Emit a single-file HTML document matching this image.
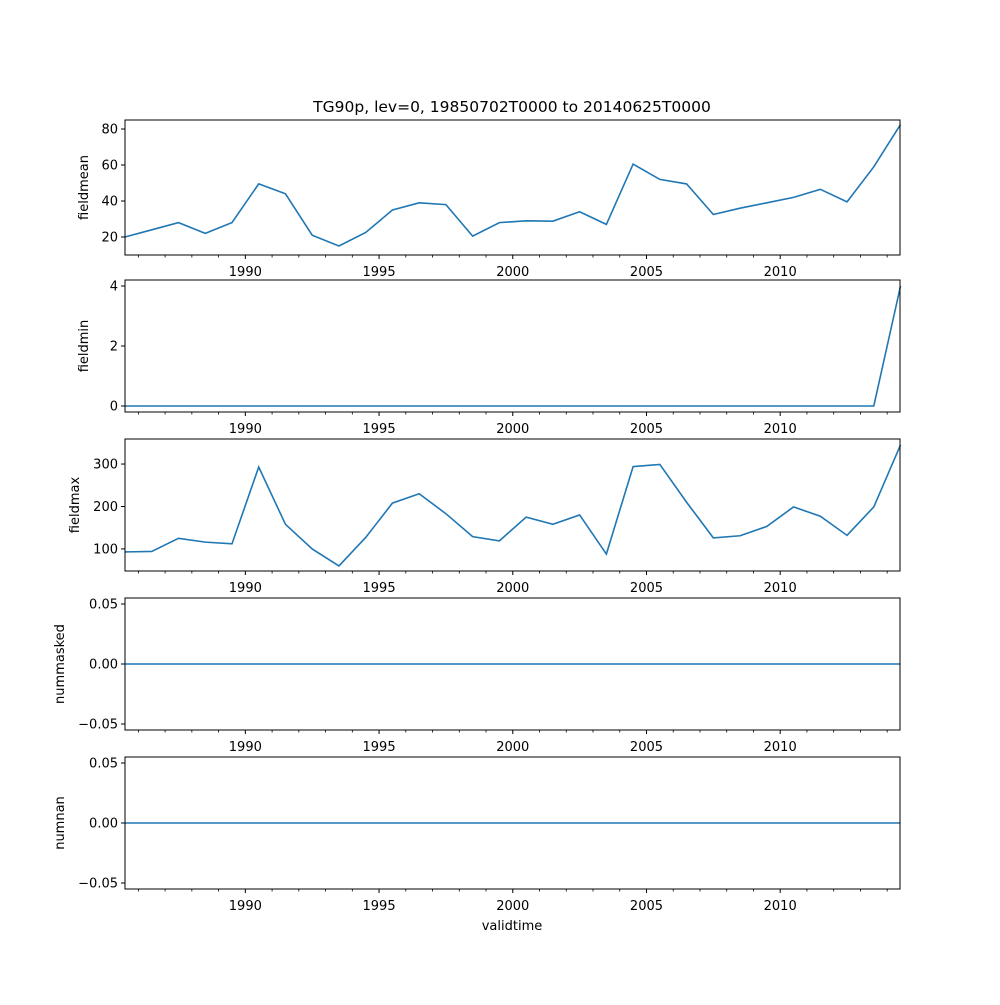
<!DOCTYPE html>
<html><head><meta charset="utf-8"><style>
body{margin:0;background:#fff;}
svg text{font-family:"DejaVu Sans","Liberation Sans",sans-serif;font-size:13px;fill:#000;}
</style></head><body>
<svg id="chart" width="1000" height="1000" xmlns="http://www.w3.org/2000/svg">
<rect width="1000" height="1000" fill="#fff"/>
<text x="512" y="112" text-anchor="middle" style="font-size:15.5px">TG90p, lev=0, 19850702T0000 to 20140625T0000</text>
<text x="512" y="930" text-anchor="middle">validtime</text>
</svg>
<script>
const years = [1985,1986,1987,1988,1989,1990,1991,1992,1993,1994,1995,1996,1997,1998,1999,2000,2001,2002,2003,2004,2005,2006,2007,2008,2009,2010,2011,2012,2013,2014];
const fieldmean = [20,24,28,22,28,49.5,44,21,15,22.5,35,39,38,20.5,28,29,28.8,34,27,60.5,52,49.5,32.5,36,39,42,46.5,39.5,59,82.5];
const fieldmin = [0,0,0,0,0,0,0,0,0,0,0,0,0,0,0,0,0,0,0,0,0,0,0,0,0,0,0,0,0,4];
const fieldmax = [93,94,125,116,112,293,158,100,60,127,208,230,183,129,119,175,158,180,88,294,299,210,126,131,153,199,177,132,199,345];
const nummasked = [0,0,0,0,0,0,0,0,0,0,0,0,0,0,0,0,0,0,0,0,0,0,0,0,0,0,0,0,0,0];
const numnan = [0,0,0,0,0,0,0,0,0,0,0,0,0,0,0,0,0,0,0,0,0,0,0,0,0,0,0,0,0,0];
const majorTicks = [1990,1995,2000,2005,2010];
const minorTicks = [1986,1987,1988,1989,1991,1992,1993,1994,1996,1997,1998,1999,2001,2002,2003,2004,2006,2007,2008,2009,2011,2012,2013,2014];
const ticksMean = [20,40,60,80];
const ticksMin = [0,2,4];
const ticksMax = [100,200,300];
const ticksZero = [-0.05,0,0.05];

const svg = document.getElementById('chart');
const NS = 'http://www.w3.org/2000/svg';
const L = 125, R = 900, X0 = 1985.5, X1 = 2014.48;
function xs(v){ return L + (v - X0) / (X1 - X0) * (R - L); }
function mk(tag, attrs){ const e = document.createElementNS(NS, tag); for (const k in attrs) e.setAttribute(k, attrs[k]); svg.appendChild(e); return e; }

const panels = [
  {name:'fieldmean', data:fieldmean, top:120, bot:255, lo:10, hi:85, ticks:ticksMean, fmt:v=>String(v)},
  {name:'fieldmin', data:fieldmin, top:280, bot:412, lo:-0.2, hi:4.2, ticks:ticksMin, fmt:v=>String(v)},
  {name:'fieldmax', data:fieldmax, top:439, bot:571, lo:48, hi:359, ticks:ticksMax, fmt:v=>String(v)},
  {name:'nummasked', data:nummasked, top:598, bot:730, lo:-0.055, hi:0.055, ticks:ticksZero, fmt:v=>(v<0?'\u22120.05':v.toFixed(2))},
  {name:'numnan', data:numnan, top:757, bot:889, lo:-0.055, hi:0.055, ticks:ticksZero, fmt:v=>(v<0?'\u22120.05':v.toFixed(2))}
];

panels.forEach(p => {
  const ys = v => p.bot - (v - p.lo) / (p.hi - p.lo) * (p.bot - p.top);
  const pts = p.data.map((v, i) => xs(years[i] + 0.5).toFixed(2) + ',' + ys(v).toFixed(2)).join(' ');
  const line = mk('polyline', {points: pts, fill: 'none', stroke: '#1f77b4', 'stroke-width': 1.6});
  
  
  const frame = mk('rect', {x: L, y: p.top, width: R - L, height: p.bot - p.top, fill: 'none', stroke: '#000', 'stroke-width': 1});
  
  
  p.ticks.forEach(t => {
    const y = ys(t);
    const tk = mk('line', {x1: L - 4, x2: L, y1: y, y2: y, stroke: '#000', 'stroke-width': 1});
    
    
    const tl = mk('text', {x: L - 7, y: y + 4.5, 'text-anchor': 'end'});
    tl.textContent = p.fmt(t);
    
    
  });
  majorTicks.forEach(t => {
    const x = xs(t);
    const tk = mk('line', {x1: x, x2: x, y1: p.bot, y2: p.bot + 4, stroke: '#000', 'stroke-width': 1});
    
    
    const tl = mk('text', {x: x, y: p.bot + 21, 'text-anchor': 'middle'});
    tl.textContent = String(t);
    
    
  });
  minorTicks.forEach(t => {
    const x = xs(t);
    const tk = mk('line', {x1: x, x2: x, y1: p.bot, y2: p.bot + 2.5, stroke: '#000', 'stroke-width': 0.8});
    
    
  });
  const cy = (p.top + p.bot) / 2;
  const lx = p.name.startsWith('num') ? 64 : (p.name === 'fieldmax' ? 79 : 88);
  const yl = mk('text', {x: lx, y: cy, 'text-anchor': 'middle', transform: 'rotate(-90 ' + lx + ' ' + cy + ')'});
  yl.textContent = p.name;
  
  
});
</script>
</body></html>
